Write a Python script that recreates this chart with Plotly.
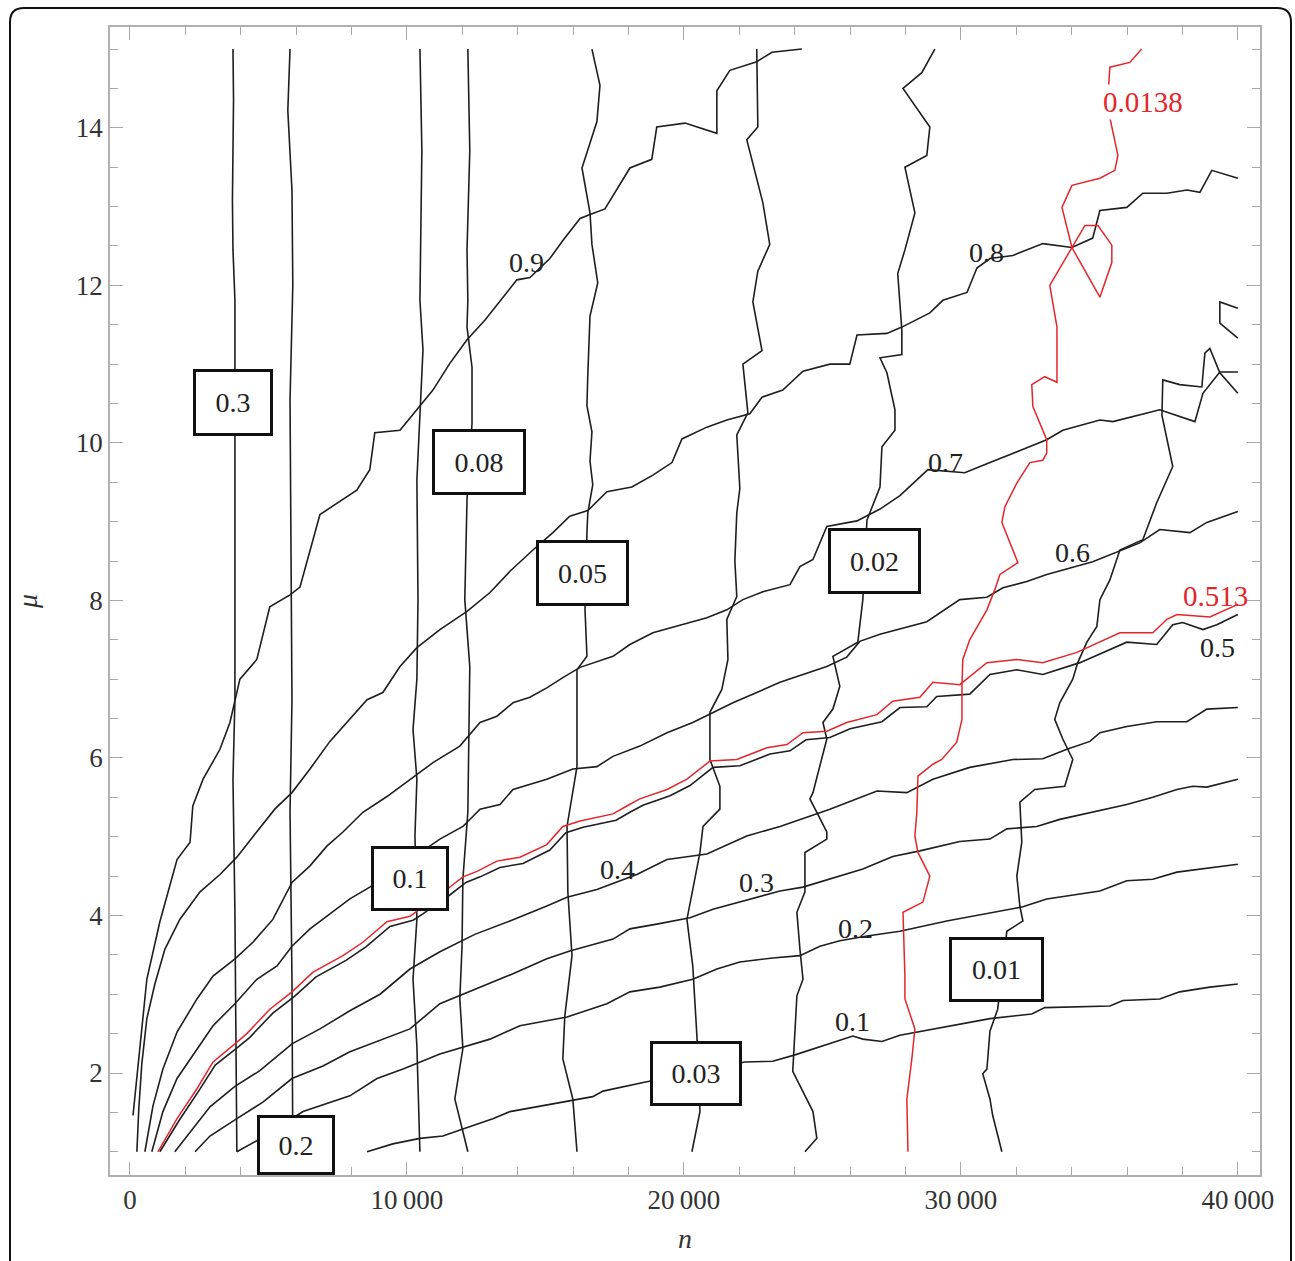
import plotly.graph_objects as go

# ---------------- data (n, mu) ----------------
# rising family
c01_n = [8560, 9490, 10470, 11300, 12020, 13100, 13720, 14330, 15990, 16710, 17080, 18660, 22200, 23210, 24010, 24910, 25630, 26100, 26460, 27150, 27800, 28410, 29600, 31050, 32560, 33030, 35380, 35850, 37180, 37900, 38990, 40000]
c01_mu = [1.00, 1.10, 1.17, 1.20, 1.29, 1.42, 1.51, 1.55, 1.65, 1.70, 1.77, 1.89, 2.14, 2.15, 2.23, 2.33, 2.41, 2.47, 2.43, 2.40, 2.48, 2.52, 2.59, 2.69, 2.75, 2.83, 2.85, 2.92, 2.94, 3.03, 3.09, 3.13]

c02_n = [3860, 4580, 6250, 7940, 8920, 9860, 11190, 12020, 13000, 14080, 15780, 17220, 18050, 19130, 20320, 21190, 22020, 23210, 24190, 24910, 25630, 26610, 27800, 29490, 31150, 32240, 33100, 35020, 35990, 36930, 37800, 39100, 40000]
c02_mu = [1.00, 1.14, 1.51, 1.71, 1.93, 2.05, 2.24, 2.33, 2.43, 2.60, 2.71, 2.88, 3.03, 3.09, 3.19, 3.32, 3.41, 3.46, 3.49, 3.61, 3.68, 3.74, 3.80, 3.93, 4.04, 4.11, 4.21, 4.31, 4.44, 4.46, 4.55, 4.61, 4.65]

c03_n = [2350, 2890, 3860, 4800, 5850, 6970, 7940, 8920, 10110, 11190, 12640, 13830, 15050, 15880, 17440, 18050, 19020, 20220, 21050, 22020, 23470, 24300, 25270, 26460, 27540, 28520, 29960, 31050, 31660, 32740, 33570, 34760, 35990, 36930, 37800, 38370, 38880, 40000]
c03_mu = [1.00, 1.20, 1.42, 1.63, 1.93, 2.09, 2.27, 2.40, 2.56, 2.88, 3.09, 3.26, 3.45, 3.55, 3.70, 3.83, 3.89, 3.97, 4.08, 4.17, 4.31, 4.36, 4.46, 4.59, 4.75, 4.82, 4.94, 4.97, 5.10, 5.13, 5.22, 5.31, 5.41, 5.50, 5.60, 5.64, 5.63, 5.73]

c04_n = [1620, 2270, 2890, 3790, 4690, 5850, 6860, 7940, 9030, 10110, 11190, 12450, 13720, 15050, 15780, 16860, 18300, 19390, 20830, 22270, 23470, 25270, 26970, 28050, 28990, 30320, 31880, 32960, 33830, 34660, 35020, 35990, 37070, 38160, 38880, 40000]
c04_mu = [1.00, 1.29, 1.57, 1.83, 2.03, 2.37, 2.56, 2.79, 3.00, 3.32, 3.54, 3.76, 3.93, 4.12, 4.23, 4.33, 4.52, 4.71, 4.78, 5.01, 5.13, 5.35, 5.58, 5.56, 5.73, 5.88, 5.98, 5.99, 6.11, 6.21, 6.32, 6.40, 6.46, 6.46, 6.62, 6.64]

c05_n = [1080, 1780, 2480, 3080, 3900, 4320, 5160, 5930, 6720, 7800, 8520, 9390, 10220, 10580, 11080, 11550, 12130, 12640, 13360, 14190, 15160, 15740, 16360, 17550, 18050, 18520, 19500, 20220, 21050, 22020, 23110, 23830, 24410, 25270, 26000, 27150, 27800, 28770, 29130, 30320, 31050, 32020, 32960, 34300, 35990, 37070, 37650, 38010, 38740, 39240, 40000]
c05_mu = [1.00, 1.40, 1.77, 2.10, 2.33, 2.45, 2.76, 2.97, 3.22, 3.43, 3.60, 3.86, 3.94, 4.02, 4.15, 4.26, 4.42, 4.49, 4.61, 4.66, 4.83, 5.05, 5.12, 5.21, 5.31, 5.40, 5.52, 5.65, 5.88, 5.90, 6.05, 6.09, 6.23, 6.26, 6.37, 6.46, 6.64, 6.65, 6.78, 6.81, 7.06, 7.12, 7.06, 7.21, 7.47, 7.44, 7.69, 7.72, 7.63, 7.69, 7.82]

c0513_n = [1010, 1700, 2420, 3000, 3790, 4220, 5050, 5850, 6610, 7690, 8410, 9280, 10110, 10470, 10940, 11440, 12020, 12530, 13250, 14080, 15050, 15630, 16250, 17440, 17940, 18410, 19390, 20110, 20940, 21910, 23000, 23720, 24300, 25160, 25880, 26970, 27540, 28520, 28990, 29960, 30940, 32020, 32960, 34190, 35740, 36930, 37440, 37800, 38990, 40000]
c0513_mu = [1.00, 1.42, 1.80, 2.14, 2.37, 2.50, 2.81, 3.03, 3.28, 3.49, 3.66, 3.92, 3.99, 4.08, 4.21, 4.33, 4.49, 4.56, 4.69, 4.74, 4.90, 5.13, 5.20, 5.29, 5.39, 5.48, 5.60, 5.73, 5.96, 5.98, 6.13, 6.17, 6.32, 6.34, 6.45, 6.55, 6.72, 6.77, 6.96, 6.93, 7.21, 7.25, 7.21, 7.34, 7.59, 7.59, 7.76, 7.82, 7.79, 7.95]

c06_n = [790, 1190, 1700, 2420, 3000, 3790, 4580, 5310, 5850, 6500, 7220, 7940, 8660, 11190, 12020, 12640, 13360, 13830, 15050, 15990, 16860, 17440, 18410, 19390, 20320, 21050, 21770, 22630, 23470, 24300, 25160, 25880, 26350, 27080, 28770, 29960, 30940, 31520, 32380, 33100, 34040, 34760, 36460, 37180, 38270, 38880, 40000]
c06_mu = [1.00, 1.51, 1.93, 2.31, 2.60, 2.88, 3.19, 3.36, 3.61, 3.83, 4.02, 4.21, 4.36, 4.97, 5.13, 5.35, 5.41, 5.60, 5.73, 5.86, 5.89, 6.02, 6.15, 6.32, 6.45, 6.58, 6.70, 6.83, 6.96, 7.06, 7.16, 7.28, 7.48, 7.57, 7.73, 8.01, 8.04, 8.16, 8.24, 8.33, 8.42, 8.49, 8.73, 8.90, 8.86, 8.99, 9.13]

c07_n = [540, 830, 1190, 1700, 2420, 3000, 3790, 4440, 5160, 5850, 6500, 7110, 7690, 8410, 9280, 10110, 10940, 11910, 12640, 13250, 13830, 14440, 15050, 15630, 16250, 17440, 18050, 18880, 19860, 20830, 21550, 22130, 22850, 23830, 24190, 24660, 25160, 26250, 27080, 27800, 28810, 30140, 31050, 32490, 33100, 33680, 35020, 35490, 37180, 38450, 38740, 39350, 40000]
c07_mu = [1.00, 1.58, 2.05, 2.52, 2.94, 3.23, 3.45, 3.66, 3.95, 4.42, 4.63, 4.88, 5.06, 5.31, 5.51, 5.73, 5.94, 6.15, 6.45, 6.53, 6.70, 6.77, 6.89, 7.02, 7.15, 7.29, 7.44, 7.59, 7.69, 7.78, 7.88, 8.01, 8.11, 8.20, 8.43, 8.52, 8.94, 9.01, 9.16, 9.33, 9.66, 9.62, 9.75, 9.95, 10.04, 10.16, 10.29, 10.27, 10.42, 10.27, 10.63, 10.90, 10.90]

c08_n = [250, 320, 430, 610, 900, 1260, 1800, 2530, 3250, 3860, 4510, 5230, 5850, 6500, 7220, 7940, 8560, 9130, 9750, 10360, 11190, 12170, 13000, 13720, 14550, 15270, 15880, 16530, 17220, 18120, 18880, 19570, 19930, 20830, 21550, 22380, 22820, 23570, 24300, 25270, 25990, 26250, 27330, 27870, 28880, 29350, 30220, 30580, 31050, 31880, 32960, 34010, 34760, 35020, 35990, 36570, 37440, 38160, 38630, 39060, 40000]
c08_mu = [1.00, 1.55, 2.12, 2.69, 3.13, 3.57, 3.95, 4.30, 4.52, 4.74, 5.03, 5.35, 5.56, 5.86, 6.21, 6.49, 6.74, 6.83, 7.16, 7.40, 7.63, 7.86, 8.10, 8.37, 8.64, 8.86, 9.07, 9.14, 9.38, 9.44, 9.59, 9.75, 10.05, 10.20, 10.29, 10.37, 10.58, 10.67, 10.91, 11.00, 11.00, 11.37, 11.39, 11.47, 11.65, 11.81, 11.91, 12.22, 12.34, 12.38, 12.53, 12.48, 12.60, 12.95, 12.99, 13.17, 13.17, 13.21, 13.18, 13.46, 13.36]

c09_n = [110, 360, 610, 1080, 1440, 1700, 2170, 2270, 2640, 3250, 3610, 3970, 4580, 5050, 5780, 6140, 6860, 8190, 8660, 8840, 9750, 10940, 11550, 12170, 12820, 13970, 14440, 15160, 15630, 16250, 16610, 17150, 18050, 18840, 19020, 20040, 21190, 21190, 21660, 22630, 23180, 24260]
c09_mu = [1.46, 2.34, 3.19, 3.92, 4.37, 4.71, 4.93, 5.39, 5.73, 6.11, 6.45, 7.00, 7.25, 7.92, 8.07, 8.17, 9.09, 9.40, 9.66, 10.13, 10.16, 10.67, 11.01, 11.31, 11.56, 12.07, 12.10, 12.34, 12.57, 12.85, 12.90, 12.97, 13.49, 13.60, 14.01, 14.06, 13.93, 14.47, 14.73, 14.84, 14.96, 15.00]

# near-vertical family
v030_n = [3720, 3740, 3720, 3700, 3720, 3790, 3790, 3790, 3720, 3790, 3860]
v030_mu = [15.00, 14.35, 13.71, 13.08, 12.45, 11.81, 10.04, 6.74, 5.73, 4.04, 1.00]

v020_n = [5780, 5700, 5850, 5880, 5780, 5850, 5780, 5850, 5880]
v020_mu = [15.00, 14.22, 13.21, 12.00, 10.54, 6.74, 5.31, 3.19, 1.00]

v010_n = [10470, 10540, 10470, 10580, 10360, 10400, 10360, 10220, 10360, 10290, 10360, 10220, 10360, 10470]
v010_mu = [15.00, 13.71, 11.81, 11.18, 9.53, 8.01, 7.00, 6.36, 5.73, 5.01, 3.95, 3.19, 2.34, 1.00]

v008_n = [12200, 12270, 12170, 12200, 12170, 12350, 12350, 12170, 12090, 12270, 12200, 12020, 11990, 11910, 12020, 11730, 12200]
v008_mu = [15.00, 13.71, 12.45, 11.81, 11.47, 10.96, 10.25, 9.28, 8.01, 7.16, 5.31, 4.46, 3.61, 2.94, 2.31, 1.67, 1.00]

v005_n = [16680, 16970, 16860, 16320, 16610, 16680, 16890, 16610, 16530, 16500, 16680, 16610, 16710, 16530, 16500, 16430, 16500, 16140, 16140, 15780, 15810, 15960, 15700, 15630, 15990, 16140]
v005_mu = [15.00, 14.54, 14.08, 13.49, 12.92, 12.52, 12.03, 11.61, 10.86, 10.47, 10.14, 9.77, 9.47, 9.11, 8.86, 7.88, 7.29, 7.12, 5.89, 5.13, 4.30, 3.49, 2.72, 2.18, 1.67, 1.00]

v003_n = [22630, 22670, 22270, 22850, 23100, 22670, 22490, 22820, 22130, 22310, 21910, 22020, 21910, 21840, 21910, 21550, 21590, 21370, 20940, 20940, 21300, 21300, 20690, 20580, 20110, 20320, 20470, 20580, 20290]
v003_mu = [15.00, 14.01, 13.85, 13.05, 12.52, 12.18, 11.79, 11.17, 11.00, 10.38, 10.10, 9.42, 9.11, 8.50, 8.05, 7.76, 7.25, 6.87, 6.58, 5.98, 5.64, 5.35, 5.13, 4.80, 3.95, 3.36, 2.47, 1.51, 1.00]

v002_n = [29060, 28590, 27910, 28880, 28770, 27980, 28340, 27980, 27720, 27870, 27870, 27080, 27330, 27620, 27620, 27150, 27080, 26610, 26460, 26280, 25380, 25630, 25380, 25020, 25160, 24910, 24660, 24550, 25160, 25160, 24370, 24370, 24080, 24190, 24300, 24080, 23930, 24660, 24800, 24370]
v002_mu = [15.00, 14.70, 14.50, 14.01, 13.65, 13.50, 12.92, 12.45, 12.15, 11.43, 11.12, 11.08, 10.89, 10.42, 10.16, 9.95, 9.44, 9.02, 8.01, 7.47, 7.29, 6.91, 6.62, 6.45, 6.24, 5.89, 5.56, 5.48, 5.06, 4.97, 4.80, 4.30, 4.04, 3.57, 3.19, 2.98, 2.02, 1.51, 1.17, 1.00]

v0138_n = [36530, 36100, 35380, 35340, 35380, 35670, 35560, 35020, 34010, 33650, 34010, 35020, 35450, 35450, 34950, 34480, 34010, 33210, 33470, 33470, 33030, 32560, 32600, 33100, 33100, 32960, 32490, 32020, 31590, 31480, 32060, 31410, 31230, 30940, 30320, 30070, 30040, 30040, 29850, 29310, 28990, 28450, 28410, 28340, 28450, 28880, 28630, 27910, 27980, 27980, 28340, 28230, 28050, 28090]
v0138_mu = [15.00, 14.83, 14.77, 14.56, 14.13, 13.65, 13.46, 13.36, 13.27, 12.99, 12.48, 11.85, 12.29, 12.51, 12.76, 12.76, 12.48, 12.00, 11.47, 10.77, 10.84, 10.74, 10.46, 10.04, 9.87, 9.78, 9.75, 9.49, 9.19, 8.99, 8.48, 8.33, 8.14, 7.88, 7.50, 7.25, 6.93, 6.49, 6.20, 5.98, 5.92, 5.77, 5.31, 5.01, 4.80, 4.50, 4.17, 4.04, 3.23, 2.94, 2.56, 2.18, 1.67, 1.00]

v001_n = [31480, 31150, 31050, 30790, 30940, 31050, 31330, 31660, 32240, 32130, 32020, 32200, 32130, 32670, 33750, 34040, 33680, 33390, 33570, 34040, 34220, 34550, 34910, 35020, 35380, 35630, 35740, 36570, 37070, 37650, 37260, 37290, 37900, 38700, 38810, 38990, 39350, 40000]
v001_mu = [1.00, 1.46, 1.67, 1.99, 2.05, 2.53, 2.81, 3.80, 3.93, 4.12, 4.50, 4.93, 5.44, 5.60, 5.64, 5.98, 6.24, 6.49, 6.70, 7.00, 7.21, 7.47, 7.67, 8.01, 8.26, 8.52, 8.64, 8.77, 9.24, 9.70, 10.35, 10.80, 10.74, 10.71, 11.14, 11.20, 10.89, 10.63]
v001b_n = [40000, 39350, 39350, 40000]
v001b_mu = [11.71, 11.79, 11.52, 11.33]

# contour labels of the rising family
line_lab_text = ["0.9", "0.8", "0.7", "0.6", "0.5", "0.4", "0.3", "0.2", "0.1"]
line_lab_n = [14330, 30940, 29460, 34040, 39280, 17620, 22630, 26210, 26100]
line_lab_mu = [12.29, 12.42, 9.75, 8.61, 7.40, 4.58, 4.42, 3.84, 2.65]

# boxed labels of the near-vertical family
box_text = ["0.3", "0.2", "0.1", "0.08", "0.05", "0.03", "0.02", "0.01"]
box_n = [3720, 5990, 10110, 12600, 16350, 20430, 26890, 31300]
box_mu = [10.51, 1.08, 4.47, 9.76, 8.35, 1.99, 8.50, 3.31]

red_lab_text = ["0.0138", "0.513"]
red_lab_n = [36570, 39200]
red_lab_mu = [14.33, 8.05]

x_ticks = [0, 10000, 20000, 30000, 40000]
x_tick_text = ["0", "10\u2009000", "20\u2009000", "30\u2009000", "40\u2009000"]
y_ticks = [2, 4, 6, 8, 10, 12, 14]

# ---------------- figure ----------------
BLACK = "#1e1e1e"
RED = "#e3262b"
FONT = "Liberation Serif, Times New Roman, DejaVu Serif, serif"

fig = go.Figure()

black_lines = [
    (c01_n, c01_mu), (c02_n, c02_mu), (c03_n, c03_mu), (c04_n, c04_mu),
    (c05_n, c05_mu), (c06_n, c06_mu), (c07_n, c07_mu), (c08_n, c08_mu),
    (c09_n, c09_mu),
    (v030_n, v030_mu), (v020_n, v020_mu), (v010_n, v010_mu), (v008_n, v008_mu),
    (v005_n, v005_mu), (v003_n, v003_mu), (v002_n, v002_mu), (v001_n, v001_mu),
    (v001b_n, v001b_mu),
]
for xs, ys in black_lines:
    fig.add_trace(go.Scatter(x=xs, y=ys, mode="lines",
                             line=dict(color=BLACK, width=1.6),
                             showlegend=False, hoverinfo="skip"))
for xs, ys in [(c0513_n, c0513_mu), (v0138_n, v0138_mu)]:
    fig.add_trace(go.Scatter(x=xs, y=ys, mode="lines",
                             line=dict(color=RED, width=1.5),
                             showlegend=False, hoverinfo="skip"))

annotations = []
for t, xv, yv in zip(line_lab_text, line_lab_n, line_lab_mu):
    annotations.append(dict(x=xv, y=yv, xref="x", yref="y", text=t, showarrow=False,
                            font=dict(family=FONT, size=28, color="#222")))

box_w = [74, 72, 72, 88, 87, 86, 87, 89]
box_h = [61, 54, 59, 60, 60, 59, 60, 59]
for t, xv, yv, w, h in zip(box_text, box_n, box_mu, box_w, box_h):
    annotations.append(dict(x=xv, y=yv, xref="x", yref="y", text=t, showarrow=False,
                            font=dict(family=FONT, size=28, color="#222"),
                            bgcolor="white", bordercolor="#111", borderwidth=3,
                            borderpad=0, width=w, height=h))

annotations.append(dict(x=red_lab_n[0], y=red_lab_mu[0], xref="x", yref="y",
                        text=red_lab_text[0], showarrow=False, bgcolor="white",
                        font=dict(family=FONT, size=29, color=RED)))
annotations.append(dict(x=red_lab_n[1], y=red_lab_mu[1], xref="x", yref="y",
                        text=red_lab_text[1], showarrow=False,
                        font=dict(family=FONT, size=29, color=RED)))

# pixel box of the plot area inside the 1295x1261 figure
L, R, T, B = 110.0, 1260.0, 27.0, 1177.0
W = R - L
def px(xp):
    return (xp - L) / W
def py(yp):
    return (B - yp) / W
x0, x1, y0, y1, r = px(10), px(1291), py(8), py(1300), 14 / W
frame_path = (f"M {x0},{y1} L {x0},{y0 - r} Q {x0},{y0} {x0 + r},{y0} "
              f"L {x1 - r},{y0} Q {x1},{y0} {x1},{y0 - r} L {x1},{y1}")

fig.update_layout(
    width=1295, height=1261,
    margin=dict(l=110, r=35, t=27, b=84),
    paper_bgcolor="white", plot_bgcolor="white",
    annotations=annotations,
    shapes=[dict(type="path", xref="paper", yref="paper", path=frame_path,
                 line=dict(color="#111", width=2))],
    font=dict(family=FONT),
)

axis_common = dict(showgrid=False, zeroline=False, showline=True, linecolor="#b0b0b0",
                   linewidth=1.5, mirror="allticks", ticks="inside", ticklen=13,
                   tickcolor="#a8a8a8", tickwidth=1.3,
                   tickfont=dict(family=FONT, size=27, color="#333"))

fig.update_xaxes(range=[-720, 40800], tickmode="array", tickvals=x_ticks,
                 ticktext=x_tick_text,
                 minor=dict(dtick=2000, tick0=0, ticks="inside", ticklen=8,
                            tickcolor="#a8a8a8", tickwidth=1.3),
                 title=dict(text="<i>n</i>", font=dict(family=FONT, size=28, color="#333"),
                            standoff=14),
                 **axis_common)
fig.update_yaxes(range=[0.705, 15.28], tickmode="array", tickvals=y_ticks,
                 ticktext=[str(v) for v in y_ticks],
                 minor=dict(dtick=0.5, tick0=0, ticks="inside", ticklen=8,
                            tickcolor="#a8a8a8", tickwidth=1.3),
                 title=dict(text="<i>μ</i>", font=dict(family=FONT, size=28, color="#333"),
                            standoff=30),
                 **axis_common)

fig.write_html(
    "out.html",
    config={"displayModeBar": False},
    post_script="document.body.style.margin='0';document.body.style.overflow='hidden';",
)
